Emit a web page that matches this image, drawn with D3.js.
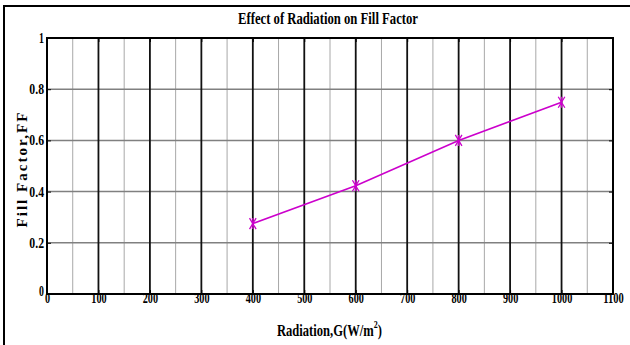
<!DOCTYPE html>
<html>
<head>
<meta charset="utf-8">
<script src="https://cdn.jsdelivr.net/npm/d3@7"></script>
<style>
  body { margin: 0; background: #fff; }
  text { font-family: "Liberation Serif", "Times New Roman", serif; font-weight: bold; }
</style>
</head>
<body>
<div id="chart"></div>
<script>
  // Chart data
  const radiation = [400, 600, 800, 1000];
  const fillFactor = [0.275, 0.423, 0.6, 0.749];
  const xTicks = [0, 100, 200, 300, 400, 500, 600, 700, 800, 900, 1000, 1100];
  const yTicks = [0, 0.2, 0.4, 0.6, 0.8, 1];
  const yTickLabels = ["0", "0.2", "0.4", "0.6", "0.8", "1"];

  const width = 630, height = 345;
  const margin = { top: 38, right: 17, bottom: 51, left: 47 };

  const svg = d3.select("#chart").append("svg")
    .attr("width", width)
    .attr("height", height);

  // outer frame (only top and left edges fall inside the window)
  svg.append("rect")
    .attr("x", 4).attr("y", 6)
    .attr("width", width + 10).attr("height", height + 10)
    .attr("fill", "none")
    .attr("stroke", "#000")
    .attr("stroke-width", 2);

  const x = d3.scaleLinear()
    .domain([0, 1100])
    .range([margin.left, width - margin.right]);

  const y = d3.scaleLinear()
    .domain([0, 1])
    .range([height - margin.bottom, margin.top]);

  // grid: minor verticals at 50s
  svg.append("g")
    .selectAll("line")
    .data(d3.range(50, 1100, 100))
    .join("line")
    .attr("x1", d => x(d)).attr("x2", d => x(d))
    .attr("y1", y(0)).attr("y2", y(1))
    .attr("stroke", "#a8a8a8")
    .attr("stroke-width", 1);

  // horizontal grid
  svg.append("g")
    .selectAll("line")
    .data(yTicks.slice(1, -1))
    .join("line")
    .attr("x1", x(0)).attr("x2", x(1100))
    .attr("y1", d => y(d)).attr("y2", d => y(d))
    .attr("stroke", "#808080")
    .attr("stroke-width", 1.5);

  // major verticals at 100s
  svg.append("g")
    .selectAll("line")
    .data(xTicks.slice(1, -1))
    .join("line")
    .attr("x1", d => x(d)).attr("x2", d => x(d))
    .attr("y1", y(0)).attr("y2", y(1))
    .attr("stroke", "#111")
    .attr("stroke-width", 1.8);

  // axes box
  svg.append("rect")
    .attr("x", x(0)).attr("y", y(1))
    .attr("width", x(1100) - x(0))
    .attr("height", y(0) - y(1))
    .attr("fill", "none")
    .attr("stroke", "#000")
    .attr("stroke-width", 2);

  // axes with small inward ticks
  const xAxis = svg.append("g")
    .attr("transform", `translate(0,${y(0)})`)
    .call(d3.axisBottom(x).tickValues(xTicks).tickFormat(d3.format("d")).tickSize(-4).tickPadding(2));
  xAxis.select(".domain").remove();
  xAxis.selectAll(".tick line").attr("stroke", "#000");
  xAxis.selectAll(".tick text")
    .attr("font-family", "Liberation Serif")
    .attr("font-weight", "bold")
    .attr("font-size", 14)
    .attr("fill", "#000")
    .attr("dy", "0.5em")
    .attr("textLength", d => String(d).length * 5.1)
    .attr("lengthAdjust", "spacingAndGlyphs");

  const yAxis = svg.append("g")
    .attr("transform", `translate(${x(0)},0)`)
    .call(d3.axisLeft(y).tickValues(yTicks).tickFormat((d, i) => yTickLabels[i]).tickSize(-4).tickPadding(3));
  yAxis.select(".domain").remove();
  yAxis.selectAll(".tick line").attr("stroke", "#000");
  yAxis.selectAll(".tick text")
    .attr("font-family", "Liberation Serif")
    .attr("font-weight", "bold")
    .attr("font-size", 14)
    .attr("fill", "#000")
    .attr("textLength", (d, i) => yTickLabels[i].length * 4.9)
    .attr("lengthAdjust", "spacingAndGlyphs");
  yAxis.select(".tick:first-of-type text").attr("dy", "0.1em");

  // top and right ticks
  svg.append("g")
    .attr("transform", `translate(0,${y(1)})`)
    .call(d3.axisTop(x).tickValues(xTicks).tickSize(-4).tickFormat(""))
    .call(g => g.select(".domain").remove());
  svg.append("g")
    .attr("transform", `translate(${x(1100)},0)`)
    .call(d3.axisRight(y).tickValues(yTicks).tickSize(-4).tickFormat(""))
    .call(g => g.select(".domain").remove());

  // series line
  const pts = radiation.map((r, i) => [r, fillFactor[i]]);
  svg.append("path")
    .datum(pts)
    .attr("fill", "none")
    .attr("stroke", "#cc00cc")
    .attr("stroke-width", 1.6)
    .attr("d", d3.line().x(d => x(d[0])).y(d => y(d[1])));

  // asterisk markers
  const s = 5.5;
  svg.append("g")
    .selectAll("path")
    .data(pts)
    .join("path")
    .attr("transform", d => `translate(${x(d[0])},${y(d[1])})`)
    .attr("d", `M${-s * 0.6},${-s}L${s * 0.6},${s}M${-s * 0.6},${s}L${s * 0.6},${-s}M0,${-s}L0,${s}`)
    .attr("fill", "none")
    .attr("stroke", "#cc00cc")
    .attr("stroke-width", 1.3);

  // title
  svg.append("text")
    .attr("x", 328).attr("y", 24)
    .attr("text-anchor", "middle")
    .attr("font-size", 16)
    .attr("textLength", 180)
    .attr("lengthAdjust", "spacingAndGlyphs")
    .text("Effect of Radiation on Fill Factor");

  // x label: one text with a superscript, squeezed by a transform to the narrow look
  const xlG = svg.append("g");
  const xl = xlG.append("text").attr("font-size", 16.5);
  xl.append("tspan").text("Radiation,G(W/m");
  xl.append("tspan").text("2").attr("font-size", 10.5).attr("dy", -8);
  xl.append("tspan").text(")").attr("dy", 8);
  const xlLen = xl.node().getComputedTextLength();
  xlG.attr("transform", `translate(277,336) scale(${105 / xlLen},1)`);

  // y label
  svg.append("text")
    .attr("transform", `translate(27,${(y(0) + y(1)) / 2 + 4}) rotate(-90)`)
    .attr("text-anchor", "middle")
    .attr("font-size", 15)
    .attr("textLength", 115)
    .attr("lengthAdjust", "spacing")
    .text("Fill Factor,FF");
</script>
</body>
</html>
